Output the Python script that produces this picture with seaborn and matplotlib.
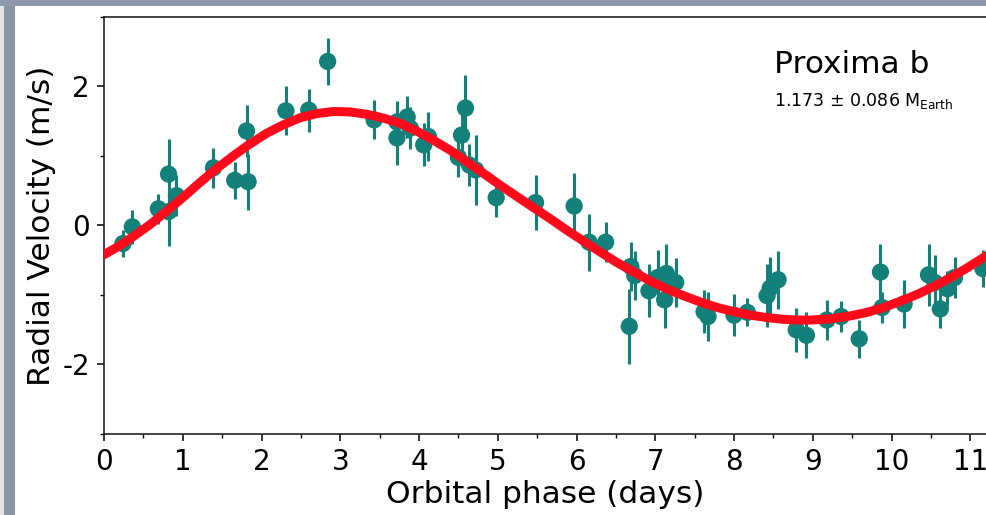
import matplotlib
matplotlib.use("Agg")
import matplotlib.pyplot as plt
from matplotlib.patches import Rectangle
from matplotlib.ticker import MultipleLocator
import pandas as pd
import seaborn as sns

# Radial-velocity measurements folded on the orbital period
phase = [0.24, 0.36, 0.69, 0.82, 0.82, 0.92, 1.39, 1.66, 1.81, 1.83,
         2.31, 2.60, 2.84, 3.43, 3.72, 3.72, 3.85, 3.89, 4.06, 4.12,
         4.50, 4.54, 4.59, 4.64, 4.72, 4.98, 5.48, 5.97, 6.16, 6.37,
         6.69, 6.74, 6.67, 6.92, 7.03, 7.14, 7.12, 7.26, 7.62, 7.67,
         8.00, 8.17, 8.42, 8.46, 8.56, 8.79, 8.92, 9.18, 9.36, 9.59,
         9.86, 9.88, 10.16, 10.47, 10.55, 10.62, 10.71, 10.80, 11.16]
rv = [-0.26, -0.02, 0.24, 0.74, 0.20, 0.43, 0.83, 0.65, 1.36, 0.63,
      1.65, 1.66, 2.36, 1.52, 1.49, 1.26, 1.56, 1.40, 1.16, 1.28,
      0.98, 1.30, 1.69, 0.87, 0.80, 0.40, 0.33, 0.28, -0.24, -0.24,
      -0.59, -0.72, -1.45, -0.94, -0.75, -0.69, -1.07, -0.82, -1.24, -1.31,
      -1.29, -1.25, -1.01, -0.90, -0.78, -1.50, -1.58, -1.36, -1.31, -1.63,
      -0.67, -1.18, -1.13, -0.71, -0.82, -1.20, -0.91, -0.75, -0.62]
rv_err = [0.20, 0.25, 0.22, 0.50, 0.50, 0.29, 0.29, 0.27, 0.38, 0.40,
          0.35, 0.31, 0.34, 0.28, 0.30, 0.39, 0.30, 0.30, 0.31, 0.35,
          0.28, 0.30, 0.48, 0.30, 0.50, 0.28, 0.39, 0.48, 0.41, 0.29,
          0.35, 0.35, 0.54, 0.38, 0.40, 0.42, 0.41, 0.35, 0.31, 0.35,
          0.30, 0.20, 0.45, 0.45, 0.42, 0.32, 0.33, 0.29, 0.22, 0.27,
          0.40, 0.22, 0.34, 0.45, 0.40, 0.27, 0.25, 0.30, 0.27]

# Best-fit orbital model
model_phase = [0.00, 0.20, 0.37, 0.58, 0.80, 1.01, 1.22, 1.43, 1.64, 1.81,
               1.98, 2.07, 2.28, 2.49, 2.70, 2.91, 3.12, 3.34, 3.55, 3.76,
               3.97, 4.18, 4.40, 4.61, 4.82, 5.03, 5.24, 5.45, 5.67, 5.88,
               6.09, 6.30, 6.51, 6.73, 6.94, 7.15, 7.36, 7.57, 7.79, 8.00,
               8.21, 8.42, 8.63, 8.80, 8.97, 9.22, 9.48, 9.69, 9.90, 10.11,
               10.33, 10.54, 10.75, 10.96, 11.17, 11.20]
model_rv = [-0.42, -0.29, -0.16, 0.01, 0.21, 0.41, 0.62, 0.82, 1.00, 1.14,
            1.265, 1.33, 1.45, 1.55, 1.61, 1.64, 1.635, 1.60, 1.545, 1.47,
            1.36, 1.23, 1.08, 0.915, 0.75, 0.58, 0.42, 0.26, 0.095, -0.07,
            -0.225, -0.38, -0.53, -0.67, -0.80, -0.915, -1.01, -1.10, -1.18, -1.24,
            -1.29, -1.325, -1.35, -1.36, -1.36, -1.345, -1.30, -1.25, -1.18, -1.09,
            -0.99, -0.875, -0.75, -0.61, -0.46, -0.44]

planet_name = "Proxima b"
planet_mass = r"1.173 $\pm$ 0.086 M$_{\rm Earth}$"

obs = pd.DataFrame({"phase": phase, "rv": rv, "err": rv_err})
fit = pd.DataFrame({"phase": model_phase, "rv": model_rv})

sns.set_theme(style="ticks")
plt.rcParams["font.family"] = ["DejaVu Sans"]
plt.rcParams["axes.unicode_minus"] = False
plt.rcParams["text.color"] = "black"
plt.rcParams["axes.labelcolor"] = "black"
plt.rcParams["xtick.color"] = "black"
plt.rcParams["ytick.color"] = "black"

W, H = 986, 515
fig = plt.figure(figsize=(W / 100, H / 100), dpi=100)
fig.patch.set_facecolor("white")

# window frame
fig.patches.append(Rectangle((0, 0), 4 / W, 1, transform=fig.transFigure,
                             facecolor="#e4e5e8", edgecolor="none", zorder=0))
fig.patches.append(Rectangle((4 / W, 0), 11 / W, 1, transform=fig.transFigure,
                             facecolor="#8c95a5", edgecolor="none", zorder=0))
fig.patches.append(Rectangle((0, 1 - 6 / H), 1, 6 / H, transform=fig.transFigure,
                             facecolor="#8f99ab", edgecolor="none", zorder=0))

ax = fig.add_axes([104 / W, 1 - 434 / H, (W - 104) / W, (434 - 17) / H])
ax.set_facecolor("white")

teal = "#13807a"
ax.errorbar(obs["phase"], obs["rv"], yerr=obs["err"], fmt="none",
            ecolor=teal, elinewidth=2.2, capsize=0, zorder=2)
sns.scatterplot(data=obs, x="phase", y="rv", ax=ax, color=teal, s=155,
                edgecolor="none", linewidth=0, zorder=3)
sns.lineplot(data=fit, x="phase", y="rv", ax=ax, color="#ff0a1a",
             linewidth=6.5, zorder=4, sort=True)

ax.set_xlim(0, 11.2)
ax.set_ylim(-3, 3)
ax.xaxis.set_major_locator(MultipleLocator(1))
ax.xaxis.set_minor_locator(MultipleLocator(0.5))
ax.yaxis.set_major_locator(MultipleLocator(2))
ax.yaxis.set_minor_locator(MultipleLocator(1))
ax.tick_params(axis="both", which="major", direction="out", length=5,
               width=1.1, labelsize=20, pad=5, colors="black")
ax.tick_params(axis="both", which="minor", direction="out", length=3,
               width=1.0, colors="black")
for side in ("left", "bottom", "top"):
    ax.spines[side].set_color("#222222")
    ax.spines[side].set_linewidth(1.2)
ax.spines["right"].set_visible(False)

ax.set_xlabel("Orbital phase (days)", fontsize=22.5, labelpad=3)
ax.set_ylabel("Radial Velocity (m/s)", fontsize=22.5, labelpad=5)

ax.text(8.51, 2.20, planet_name, fontsize=22.5, va="baseline", ha="left")
ax.text(8.51, 1.72, planet_mass, fontsize=12.5, va="baseline", ha="left")

fig.savefig("out.png", dpi=100, facecolor="white")
